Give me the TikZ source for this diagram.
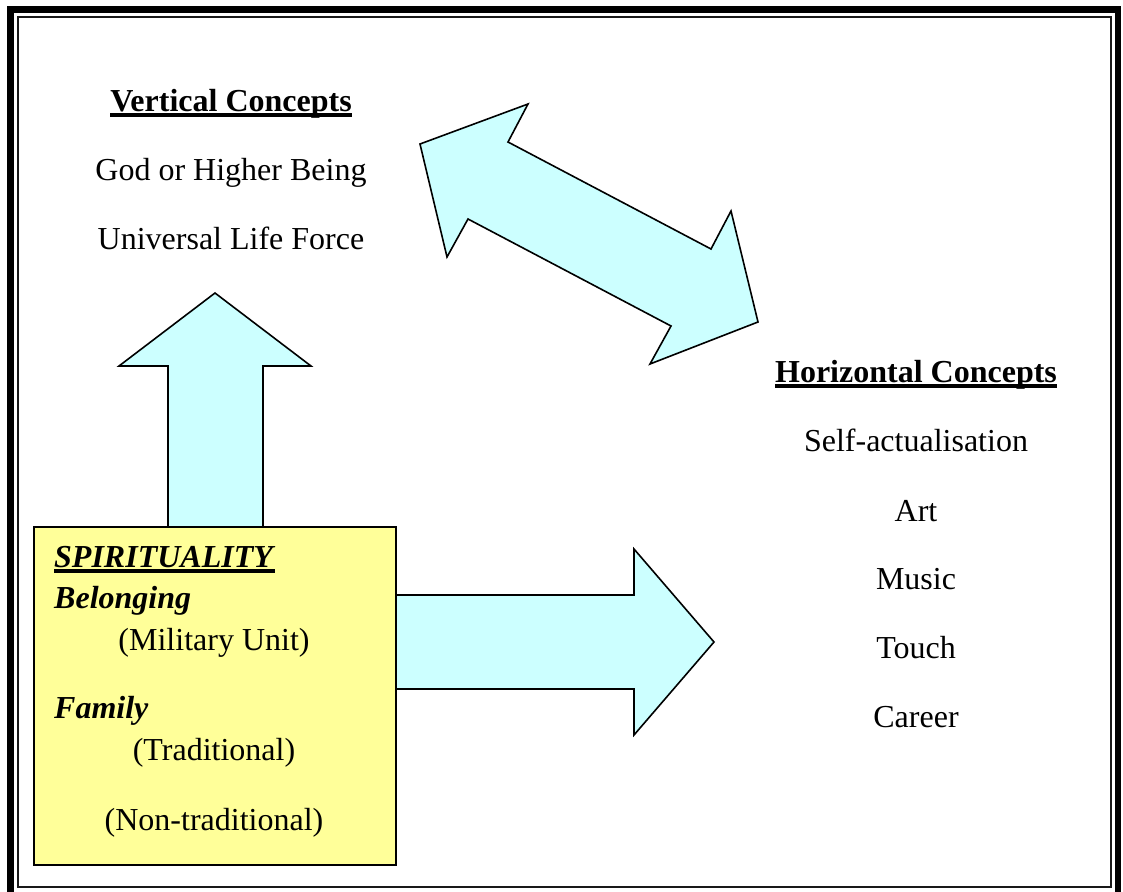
\documentclass[tikz,border=0pt]{standalone}
\usepackage{fontspec}
\setmainfont{Liberation Serif}
\definecolor{arrowcyan}{HTML}{CCFFFF}
\definecolor{boxyellow}{HTML}{FFFF99}
\newsavebox\ulbox
\newcommand\ulbar[1]{\sbox\ulbox{#1}\rlap{\rule[-5.5pt]{\wd\ulbox}{3.5pt}}\usebox\ulbox}

\begin{document}
\begin{tikzpicture}[x=1pt,y=-1pt,
        every node/.style={inner sep=0pt,anchor=base,font=\fontsize{32}{38}\selectfont},
        blockarrow/.style={draw=black,fill=arrowcyan,line width=1.6pt,line join=miter}]
        \useasboundingbox (0,0) rectangle (1123,891);
        % frame
        \draw[line width=6.5pt] (10.5,9.5) rectangle (1118,895);
        \draw[line width=1.2pt,black!90] (18,17) rectangle (1111,887);

        % arrows
        \draw[blockarrow] (168,540) -- (168,366) -- (119,366) -- (215,293) -- (311,366) -- (263,366) -- (263,540) -- cycle;
        \draw[blockarrow] (380,595) -- (634,595) -- (634,549) -- (714,642) -- (634,735) -- (634,689) -- (380,689) -- cycle;
        \draw[blockarrow] (420,144) -- (528,104) -- (508,142) -- (711,249) -- (731,211) -- (758,322)
                -- (650,364) -- (671,326) -- (468,219) -- (447,257) -- cycle;

        % box
        \node[draw,fill=boxyellow,line width=1.5pt,minimum width=362pt,minimum height=338pt,anchor=center] (spirit) at (215,696) {};

        \node (vc) at (231,111) {\ulbar{\textbf{Vertical Concepts}}};
        \node (god) at (231,180) {God or Higher Being};
        \node (ulf) at (231,249) {Universal Life Force};

        \node (hc) at (916,382) {\ulbar{\textbf{Horizontal Concepts}}};
        \node (self) at (916,451) {Self-actualisation};
        \node (art) at (916,521) {Art};
        \node (music) at (916,589) {Music};
        \node (touch) at (916,658) {Touch};
        \node (career) at (916,727) {Career};

        \node[anchor=base west] (spi) at (54,567) {\ulbar{\textbf{\textit{SPIRITUALITY}}}};
        \node[anchor=base west] (bel) at (54,608) {\textbf{\textit{Belonging}}};
        \node (mil) at (214,650) {(Military Unit)};
        \node[anchor=base west] (fam) at (54,718) {\textbf{\textit{Family}}};
        \node (trad) at (214,760) {(Traditional)};
        \node (nontrad) at (214,830) {(Non-traditional)};
\end{tikzpicture}
\end{document}
